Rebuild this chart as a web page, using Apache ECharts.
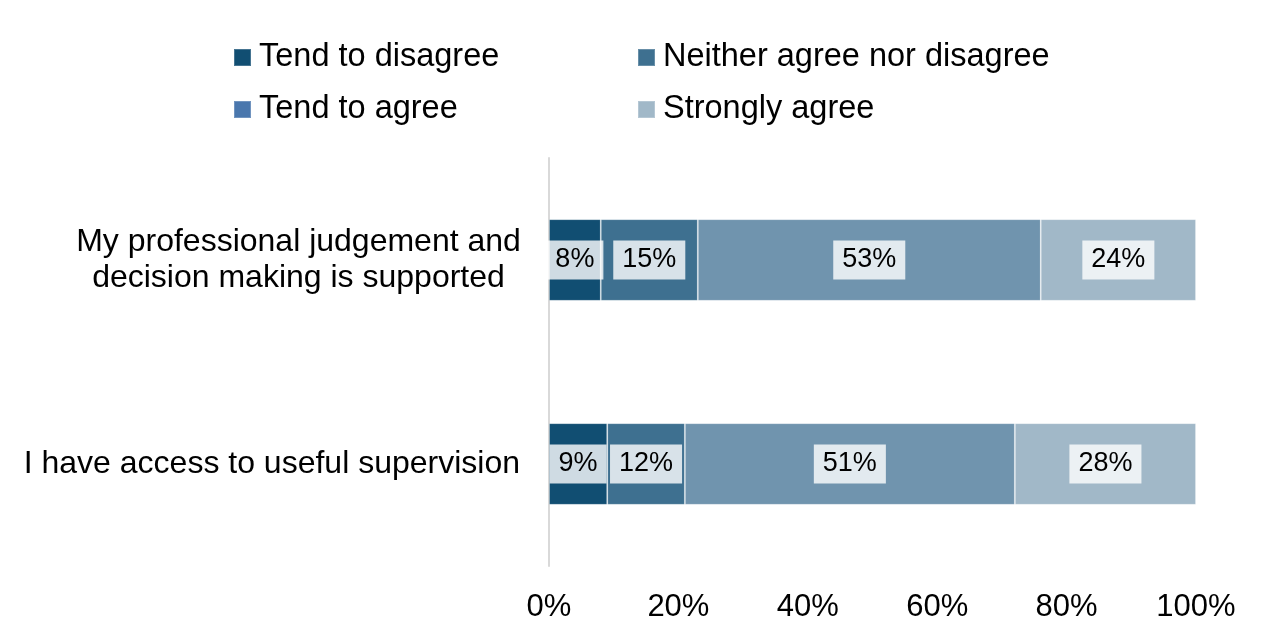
<!DOCTYPE html>
<html>
<head>
<meta charset="utf-8">
<script src="https://cdn.jsdelivr.net/npm/echarts@6/dist/echarts.min.js"></script>
<style>
  html, body { margin: 0; padding: 0; background: #ffffff; }
  #chart { width: 1265px; height: 637px; }
</style>
</head>
<body>
<div id="chart"></div>
<script>
// ---- data ----
const categories = [
  'My professional judgement and\ndecision making is supported',
  'I have access to useful supervision'
];
const seriesNames = ['Tend to disagree', 'Neither agree nor disagree', 'Tend to agree', 'Strongly agree'];
const tendToDisagree = [8, 9];
const neitherAgreeNorDisagree = [15, 12];
const tendToAgree = [53, 51];
const stronglyAgree = [24, 28];
const xTicks = [0, 20, 40, 60, 80, 100];

// ---- styles ----
const barColors = ['#114e72', '#3e7090', '#7094ae', '#a1b8c8'];
const legendColors = ['#114e72', '#3e7090', '#4a77ad', '#a1b8c8'];
const FONT = '"Liberation Sans", Arial, sans-serif';

const values = [tendToDisagree, neitherAgreeNorDisagree, tendToAgree, stronglyAgree];

const chart = echarts.init(document.getElementById('chart'), null, { renderer: 'canvas' });

function legendItem(i) {
  return { name: seriesNames[i], itemStyle: { color: legendColors[i] } };
}
const legendCommon = {
  orient: 'vertical',
  top: 41,
  padding: 0,
  itemWidth: 17,
  itemHeight: 17,
  itemGap: 19,
  icon: 'rect',
  selectedMode: false,
  textStyle: { fontFamily: FONT, fontSize: 32.5, color: '#000', lineHeight: 32, padding: [0, 0, 0, 3] }
};

const option = {
  backgroundColor: '#ffffff',
  animation: false,
  textStyle: { fontFamily: FONT },
  legend: [
    Object.assign({}, legendCommon, { left: 233, data: [legendItem(0), legendItem(2)] }),
    Object.assign({}, legendCommon, { left: 637, data: [legendItem(1), legendItem(3)] })
  ],
  grid: { left: 549, right: 69, top: 158, bottom: 71, containLabel: false },
  xAxis: {
    type: 'value',
    min: xTicks[0],
    max: xTicks[xTicks.length - 1],
    interval: 20,
    axisLine: { show: false },
    axisTick: { show: false },
    splitLine: { show: false },
    axisLabel: {
      formatter: '{value}%',
      fontFamily: FONT,
      fontSize: 31,
      color: '#000',
      margin: 26
    }
  },
  yAxis: {
    type: 'category',
    inverse: true,
    data: categories,
    axisLine: { show: true, lineStyle: { color: '#d9d9d9', width: 2 } },
    axisTick: { show: false },
    axisLabel: {
      margin: 29,
      color: '#000',
      fontFamily: FONT,
      fontSize: 32,
      formatter: function (v) {
        if (v.indexOf('\n') >= 0) {
          return v.split('\n').map(function (l) { return '{c|' + l + '}'; }).join('\n');
        }
        return '{s|' + v + '}';
      },
      rich: {
        c: { width: 443, align: 'center', fontSize: 32, lineHeight: 36, fontFamily: FONT, color: '#000' },
        s: { fontSize: 32, lineHeight: 36, fontFamily: FONT, color: '#000' }
      }
    }
  },
  series: seriesNames.map(function (name, i) {
    return {
      name: name,
      type: 'bar',
      stack: 'total',
      barWidth: '40%',
      data: values[i],
      itemStyle: { color: barColors[i], borderColor: 'rgba(255,255,255,0.22)', borderWidth: 1 },
      label: {
        show: true,
        position: 'inside',
        formatter: '{c}%',
        fontFamily: FONT,
        fontSize: 27,
        color: '#000',
        backgroundColor: 'rgba(255,255,255,0.8)',
        padding: [6, 9],
        lineHeight: 27
      },
      emphasis: { disabled: true }
    };
  })
};

chart.setOption(option);
</script>
</body>
</html>
